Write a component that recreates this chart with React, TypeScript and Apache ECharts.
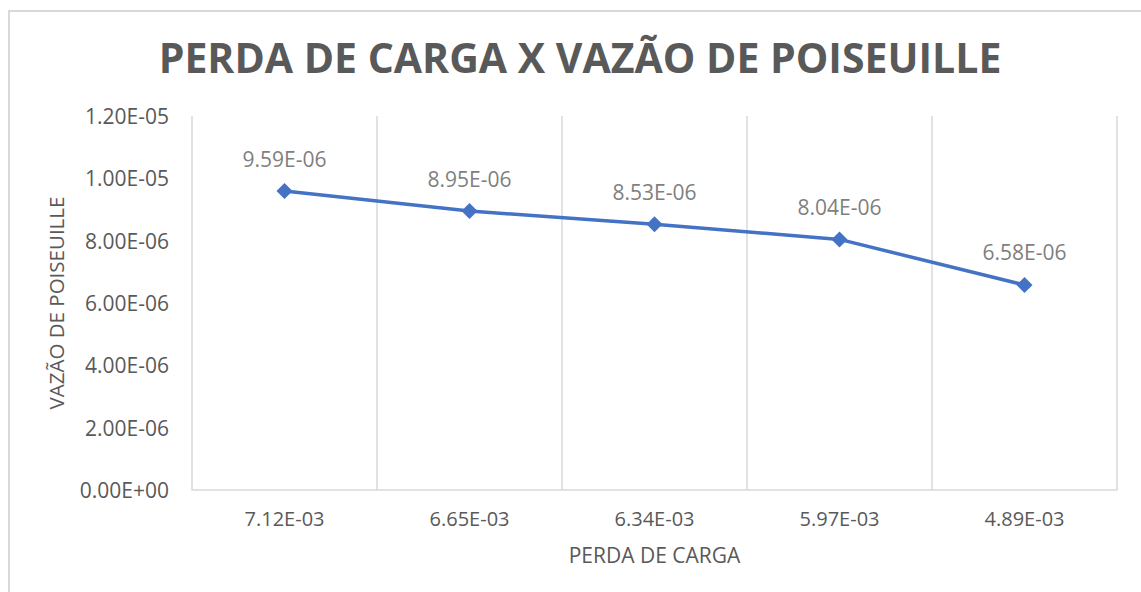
import React, { useEffect, useRef } from "react";
import * as echarts from "echarts";

const categories = ["7.12E-03", "6.65E-03", "6.34E-03", "5.97E-03", "4.89E-03"];
const values = [9.59e-6, 8.95e-6, 8.53e-6, 8.04e-6, 6.58e-6];
const valueLabels = ["9.59E-06", "8.95E-06", "8.53E-06", "8.04E-06", "6.58E-06"];

const titleText = "PERDA DE CARGA X VAZÃO DE POISEUILLE";
const xName = "PERDA DE CARGA";
const yName = "VAZÃO DE POISEUILLE";

const FONT = "'Open Sans', 'Noto Sans', sans-serif";

function fmtY(v: number): string {
  if (v === 0) return "0.00E+00";
  const e = Math.floor(Math.log10(Math.abs(v)) + 1e-9);
  const m = v / Math.pow(10, e);
  const sign = e < 0 ? "-" : "+";
  const ae = Math.abs(e);
  return m.toFixed(2) + "E" + sign + (ae < 10 ? "0" + ae : String(ae));
}

export default function App() {
  const ref = useRef<HTMLDivElement>(null);
  useEffect(() => {
    if (!ref.current) return;
    const chart = echarts.init(ref.current, undefined, { renderer: "svg" });
    chart.setOption({
      animation: false,
      backgroundColor: "#ffffff",
      textStyle: { fontFamily: FONT },
      title: {
        text: titleText,
        left: 575,
        top: 31,
        textAlign: "center",
        textStyle: {
          fontFamily: FONT,
          fontSize: 41,
          fontWeight: "bold",
          color: "#595959",
        },
      },
      graphic: [
        {
          type: "rect",
          shape: { x: 9, y: 11, width: 1400, height: 1000 },
          style: { fill: "none", stroke: "#d9d9d9", lineWidth: 2 },
          silent: true,
        },
      ],
      grid: { left: 192, right: 24, top: 116, bottom: 102, containLabel: false },
      xAxis: {
        type: "category",
        data: categories,
        boundaryGap: true,
        name: xName,
        nameLocation: "middle",
        nameGap: 54,
        nameTextStyle: { fontFamily: FONT, fontSize: 21, color: "#595959" },
        axisLine: { show: true, lineStyle: { color: "#d9d9d9", width: 1.5 } },
        axisTick: { show: false },
        axisLabel: {
          fontFamily: FONT,
          fontSize: 20,
          color: "#595959",
          margin: 18,
          interval: 0,
        },
        splitLine: { show: true, lineStyle: { color: "#d9d9d9", width: 1.5 } },
      },
      yAxis: {
        type: "value",
        min: 0,
        max: 1.2e-5,
        interval: 2e-6,
        name: yName,
        nameLocation: "middle",
        nameGap: 126,
        nameTextStyle: { fontFamily: FONT, fontSize: 20.5, color: "#595959" },
        axisLine: { show: false },
        axisTick: { show: false },
        splitLine: { show: false },
        axisLabel: {
          fontFamily: FONT,
          fontSize: 21,
          color: "#595959",
          margin: 23,
          formatter: (v: number) => fmtY(v),
        },
      },
      series: [
        {
          type: "line",
          data: values,
          symbol: "diamond",
          symbolSize: 16,
          lineStyle: { color: "#4472C4", width: 3.5 },
          itemStyle: { color: "#4472C4" },
          label: {
            show: true,
            position: "top",
            distance: 14,
            fontFamily: FONT,
            fontSize: 21,
            color: "#7f7f7f",
            formatter: (p: any) => valueLabels[p.dataIndex],
          },
        },
      ],
    });
    return () => chart.dispose();
  }, []);
  return (
    <div
      ref={ref}
      style={{ position: "fixed", left: 0, top: 0, width: 1141, height: 592 }}
    />
  );
}
